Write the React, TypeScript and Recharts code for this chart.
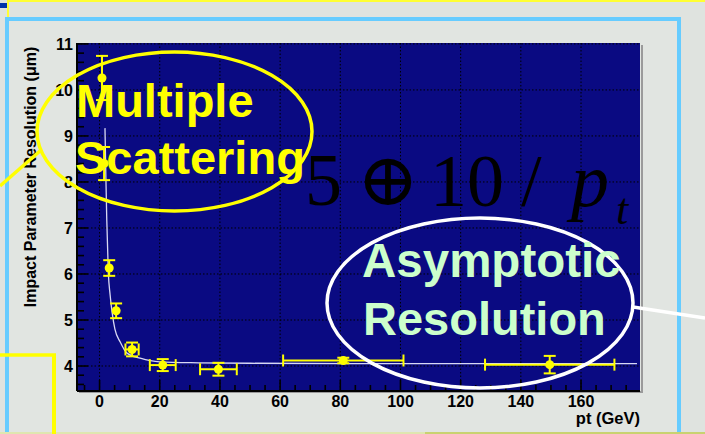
import React from 'react';
import { ComposedChart, Scatter, Line, XAxis, YAxis, CartesianGrid, ErrorBar } from 'recharts';

const W = 705;
const H = 434;

// measured points
const ptValues = [0.8, 1.5, 3.2, 5.5, 10.8, 21, 39.5, 81, 149.6];
const resolutionValues = [10.26, 8.4, 6.13, 5.2, 4.36, 4.02, 3.93, 4.12, 4.03];
const ptErrors = [0, 0, 0, 0, 2.2, 4.3, 6.1, 20, 21.5];
const resolutionErrors = [0.48, 0.36, 0.17, 0.16, 0.15, 0.13, 0.14, 0.06, 0.19];

// fitted curve
const fitPt = [1.8, 2.1, 2.4, 2.9, 3.5, 4.2, 5.1, 6.8, 9.1, 13.5, 20, 33, 50, 100, 178.6];
const fitResolution = [9.17, 8.1, 7.17, 6.05, 5.55, 5.15, 4.8, 4.53, 4.28, 4.17, 4.09, 4.07, 4.06, 4.05, 4.05];

// ticks
const xMajorTicks = [0, 20, 40, 60, 80, 100, 120, 140, 160];
const yMajorTicks = [4, 5, 6, 7, 8, 9, 10, 11];
const xAllTicks = Array.from({ length: 37 }, (_, i) => -5 + 5 * i);
const yAllTicks = Array.from({ length: 38 }, (_, i) => Math.round((3.6 + 0.2 * i) * 10) / 10);

const X_DOMAIN: [number, number] = [-7.5, 179.6];
const Y_DOMAIN: [number, number] = [3.457, 11.02];

const pointData = ptValues.map((x, i) => ({ x, y: resolutionValues[i], ex: ptErrors[i], ey: resolutionErrors[i] }));
const fitData = fitPt.map((x, i) => ({ x, y: fitResolution[i] }));

const SANS = "'Liberation Sans', Arial, Helvetica, sans-serif";
const SERIF = "'Liberation Serif', 'Times New Roman', serif";

const XTick = (props: any) => {
  const { x, y, payload } = props;
  const v = payload.value;
  const major = v % 20 === 0;
  return (
    <g>
      <line x1={x} x2={x} y1={y} y2={y - (major ? 11 : 6)} stroke="#000" strokeWidth={1.6} />
      {major && v >= 0 && v <= 160 && (
        <text x={x} y={y + 16} textAnchor="middle" fontFamily={SANS} fontWeight="bold" fontSize={16} fill="#000">
          {v}
        </text>
      )}
    </g>
  );
};

const YTick = (props: any) => {
  const { x, y, payload } = props;
  const v = payload.value;
  const major = Math.abs(v - Math.round(v)) < 1e-6;
  return (
    <g>
      <line x1={x} x2={x + (major ? 11 : 7)} y1={y} y2={y} stroke="#000" strokeWidth={1.6} />
      {major && (
        <text x={x - 4} y={y} dy="0.36em" textAnchor="end" fontFamily={SANS} fontWeight="bold" fontSize={16} fill="#000">
          {v}
        </text>
      )}
    </g>
  );
};

const RTick = (props: any) => {
  const { x, y } = props;
  return <line x1={x} x2={x - 5} y1={y} y2={y} stroke="#000" strokeWidth={1.4} />;
};

const Dot = (props: any) => <circle cx={props.cx} cy={props.cy} r={4.5} fill="#ffff00" />;

export default function App() {
  return (
    <div style={{ position: 'fixed', left: 0, top: 0, width: W, height: H, overflow: 'hidden', background: '#dfe3df' }}>
      <svg width={W} height={H} style={{ position: 'absolute', left: 0, top: 0 }}>
        <rect x={0} y={0} width={W} height={H} fill="#dfe3df" />
        <rect x={7} y={0} width={W - 7} height={2} fill="#ffff33" />
        <rect x={7} y={0} width={2} height={18} fill="#ffff33" />
        <rect x={0} y={3} width={7} height={5} fill="#0033aa" />
        <rect x={7} y={19} width={672} height={500} fill="#e1e5e1" stroke="#66ccff" strokeWidth={4} />
        <rect x={0} y={432} width={425} height={2} fill="#dfe6b0" />
        <rect x={425} y={432} width={280} height={2} fill="#c9d270" />
        <rect x={641} y={45} width={2} height={348} fill="#9a9a9a" />
        <rect x={79} y={391} width={564} height={2} fill="#9a9a9a" />
      </svg>
      <div style={{ position: 'absolute', left: 0, top: 0 }}>
        <ComposedChart width={W} height={H} margin={{ top: 43, right: 65, bottom: 13, left: 32 }}>
          <CartesianGrid
            fill="#0a0a82"
            fillOpacity={1}
            stroke="#000"
            strokeDasharray="1.5 2"
            horizontalValues={yMajorTicks}
            verticalValues={xMajorTicks}
          />
          <XAxis
            type="number"
            dataKey="x"
            domain={X_DOMAIN}
            ticks={xAllTicks}
            interval={0}
            allowDataOverflow
            tickSize={0}
            tickMargin={0}
            tickLine={false}
            tick={<XTick />}
            height={30}
            axisLine={{ stroke: '#000', strokeWidth: 2 }}
          />
          <XAxis
            xAxisId="top"
            orientation="top"
            type="number"
            domain={X_DOMAIN}
            allowDataOverflow
            tick={false}
            tickLine={false}
            height={0}
            axisLine={{ stroke: '#222', strokeWidth: 1.5 }}
          />
          <YAxis
            type="number"
            dataKey="y"
            domain={Y_DOMAIN}
            ticks={yAllTicks}
            interval={0}
            allowDataOverflow
            tickSize={0}
            tickMargin={0}
            tickLine={false}
            tick={<YTick />}
            width={45}
            axisLine={{ stroke: '#000', strokeWidth: 2 }}
          />
          <YAxis
            yAxisId="r"
            orientation="right"
            type="number"
            domain={Y_DOMAIN}
            ticks={yMajorTicks}
            interval={0}
            allowDataOverflow
            tickSize={0}
            tickMargin={0}
            tickLine={false}
            tick={<RTick />}
            width={0}
            axisLine={{ stroke: '#333', strokeWidth: 1.5 }}
          />
          <Line
            data={fitData}
            dataKey="y"
            type="monotone"
            stroke="#d8d8f4"
            strokeWidth={1.3}
            dot={false}
            isAnimationActive={false}
          />
          <Scatter data={pointData} fill="#ffff00" shape={<Dot />} isAnimationActive={false}>
            <ErrorBar dataKey="ey" direction="y" width={6} stroke="#ffff00" strokeWidth={2} isAnimationActive={false} />
            <ErrorBar dataKey="ex" direction="x" width={6} stroke="#ffff00" strokeWidth={2} isAnimationActive={false} />
          </Scatter>
        </ComposedChart>
      </div>
      <svg width={W} height={H} style={{ position: 'absolute', left: 0, top: 0 }}>
        <text
          x={30}
          y={177}
          transform="rotate(-90 30 177)"
          textAnchor="middle"
          dominantBaseline="central"
          fontFamily={SANS}
          fontWeight="bold"
          fontSize={16}
          fill="#000"
        >
          Impact Parameter Resolution (μm)
        </text>
        <text x={640} y={424} textAnchor="end" fontFamily={SANS} fontWeight="bold" fontSize={16.5} fill="#000">
          pt (GeV)
        </text>

        <line x1={0} y1={355} x2={56} y2={355} stroke="#ffff00" strokeWidth={3.3} />
        <line x1={54} y1={355} x2={54} y2={H} stroke="#ffff00" strokeWidth={4} />

        <text x={305} y={205} fontFamily={SERIF} fontSize={74} fill="#000">5</text>
        <text x={357} y={205} fontFamily="'DejaVu Serif', 'DejaVu Sans', serif" fontSize={74} fill="#000">⊕</text>
        <text x={430} y={206} fontFamily={SERIF} fontSize={74} fill="#000">10</text>
        <text x={521} y={206} fontFamily={SERIF} fontSize={74} fill="#000">/</text>
        <text x={571} y={206} fontFamily={SERIF} fontStyle="italic" fontSize={76} fill="#000">p</text>
        <text x={616} y={224} fontFamily={SERIF} fontStyle="italic" fontSize={44} fill="#000">t</text>

        <line x1={0} y1={186} x2={40} y2={151} stroke="#ffff00" strokeWidth={3.5} />
        <ellipse cx={174.5} cy={131.5} rx={137.5} ry={79.5} fill="none" stroke="#ffff00" strokeWidth={3.5} />
        <text x={76} y={117} fontFamily={SANS} fontWeight="bold" fontSize={47} fill="#ffff00">Multiple</text>
        <text x={75} y={174} fontFamily={SANS} fontWeight="bold" fontSize={47} fill="#ffff00">Scattering</text>

        <line x1={633} y1={307} x2={W} y2={318} stroke="#ffffff" strokeWidth={3.5} />
        <ellipse cx={480} cy={303} rx={153} ry={85} fill="none" stroke="#ffffff" strokeWidth={3.5} />
        <text x={362} y={277} fontFamily={SANS} fontWeight="bold" fontSize={47.5} fill="#ccffcc">Asymptotic</text>
        <text x={363} y={335} fontFamily={SANS} fontWeight="bold" fontSize={47} fill="#ccffcc">Resolution</text>
      </svg>
    </div>
  );
}
